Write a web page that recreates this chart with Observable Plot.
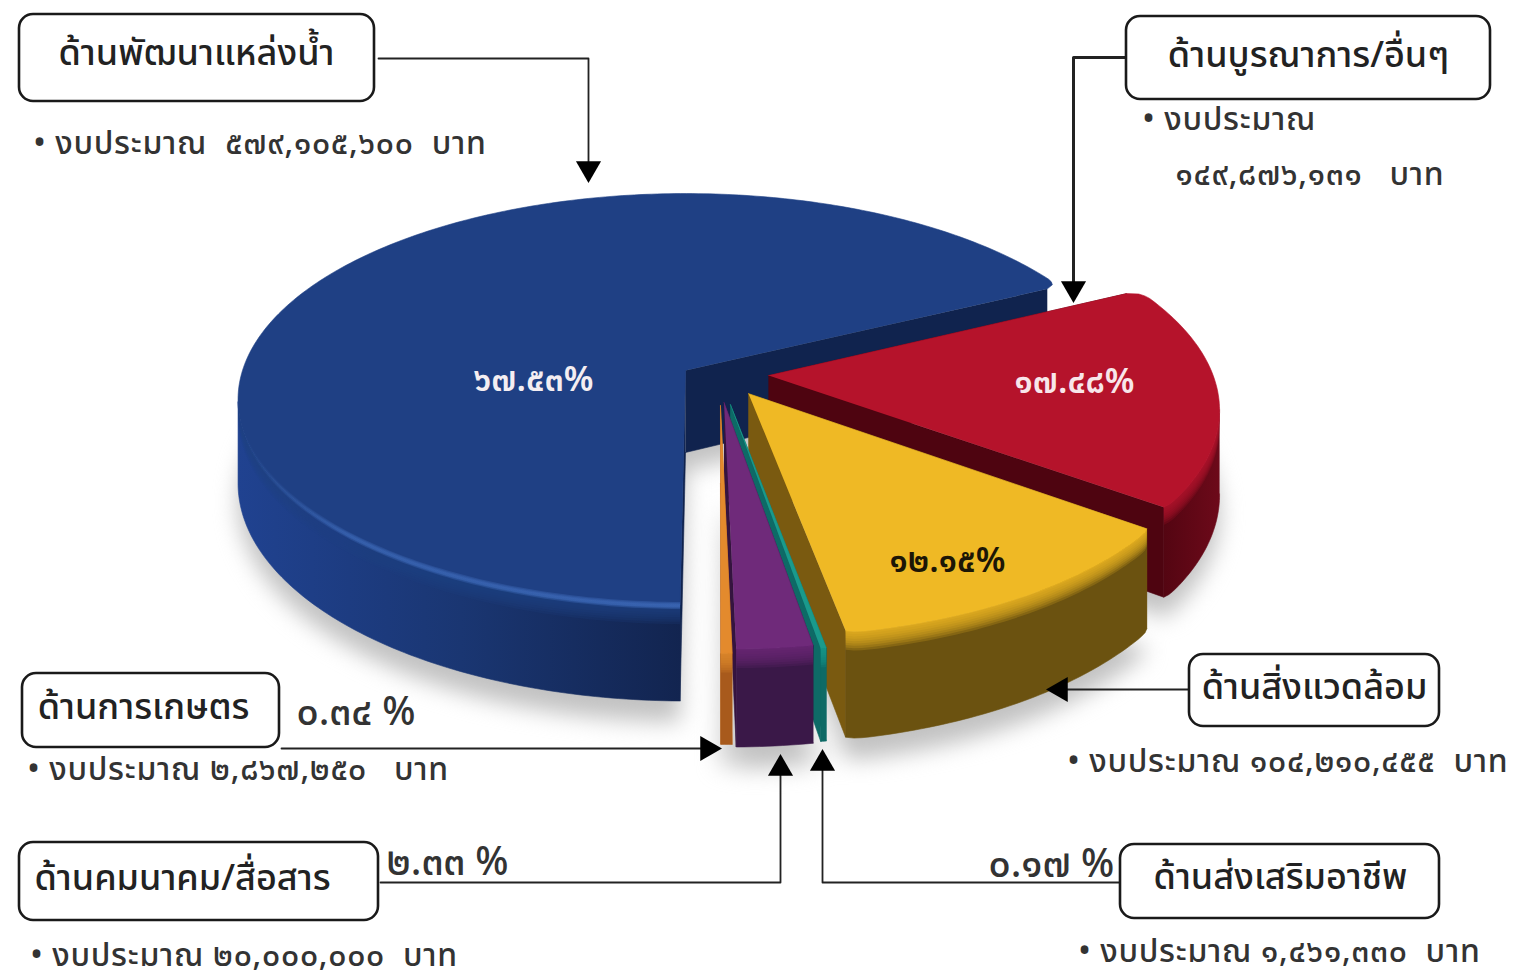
<!DOCTYPE html>
<html lang="th"><head><meta charset="utf-8">
<script src="https://cdn.jsdelivr.net/npm/d3@7"></script>
<script src="https://cdn.jsdelivr.net/npm/@observablehq/plot@0.6"></script>
<style>html,body{margin:0;padding:0;background:#fff}svg{display:block}</style>
</head><body><div id="chart"></div>
<script>
// ---- data ----
const sectors = ["ด้านพัฒนาแหล่งน้ำ","ด้านบูรณาการ/อื่นๆ","ด้านสิ่งแวดล้อม","ด้านส่งเสริมอาชีพ","ด้านคมนาคม/สื่อสาร","ด้านการเกษตร"];
const shares = [67.53,17.48,12.15,0.17,2.33,0.34];
const shareLabels = ["๖๗.๕๓%","๑๗.๔๘%","๑๒.๑๕%","๐.๑๗ %","๒.๓๓ %","๐.๓๔ %"];
const budgetLabels = ["• งบประมาณ  ๕๗๙,๑๐๕,๖๐๐  บาท","• งบประมาณ","๑๔๙,๘๗๖,๑๓๑   บาท","• งบประมาณ ๑๐๔,๒๑๐,๔๕๕  บาท","• งบประมาณ ๑,๔๖๑,๓๓๐  บาท","• งบประมาณ ๒๐,๐๐๐,๐๐๐  บาท","• งบประมาณ ๒,๘๖๗,๒๕๐   บาท"];
const topColors  = ["#1f4084","#b5132b","#efb925","#1a9a8c","#6f2a7a","#e38a2d"];
const wallFills  = ["url(#wallBlue)","url(#wallRed)","#6b5210","#0e6a66","#3a1848","#a85a1c"];
const innerColors= ["#10234e","#4e0410","#7a5a10","#0e6a66","#35143f","#c06a20"];
const shiftU = [0,0.187,0.14,0.099,0.085,0.077];
const shiftV = [0,0.025,0.113,0.165,0.155,0.17];
const depths = [82,82,90,78,82,76];
// how far each slice's outer corners are rounded off: [first corner, last corner]
const cornerCut = [[0,0.035],[0.035,0.005],[0.006,0.008],[0,0],[0,0],[0,0]];

// ---- projection of the tilted pie ----
const cx=685, cy=370, R=443, Rk=201.9, tilt=0.141;
const proj=(u,v,d=0)=>{const p=1/(1-v*tilt);return [cx+u*R*p, cy+v*Rk*p+d*p];};
const arcs=d3.pie().sort(null).startAngle(Math.PI+0.0105).endAngle(3*Math.PI+0.0105)(shares);
const polys=[], shadow=[]; let id=0;
const add=(arr,pts,color,op=1)=>{id++;pts.forEach(([x,y])=>arr.push({x,y,id,color,op,sop:op<1?0:1}));};
const bevel=[2,4,6,8,10,12,14,16];
arcs.forEach((a,i)=>{
  const du=shiftU[i], dv=shiftV[i], depth=depths[i];
  const span=a.endAngle-a.startAngle;
  const n=Math.max(3,Math.ceil(span/0.015));
  const angs=d3.range(n+1).map(k=>a.startAngle+span*k/n);
  const c=0.05;
  const round=b=>{
    const e0=b-a.startAngle,e1=a.endAngle-b;
    const e=Math.min(e0,e1), cut=e0<e1?cornerCut[i][0]:cornerCut[i][1];
    return e>=c?1:1-cut*(1-Math.sqrt(1-(1-e/c)**2));
  };
  const pt=(b,d=0)=>{const r=round(b);return proj(du+r*Math.sin(b),dv-r*Math.cos(b),d);};
  const ap=(d=0)=>proj(du,dv,d);
  add(shadow,[ap(depth+18),...angs.map(b=>pt(b,depth+18))],"#c2c2c2");
  // radial walls
  [a.startAngle,a.endAngle].forEach(b=>add(polys,[ap(0),pt(b,0),pt(b,depth),ap(depth)],innerColors[i]));
  // outer wall: only the longest stretch that faces the viewer (x falls as the bearing grows)
  const runs=[[]];
  angs.forEach((b,k)=>{
    const down=k===n?pt(angs[k-1])[0]>pt(b)[0]:pt(b)[0]>pt(angs[k+1])[0];
    if(down) runs[runs.length-1].push(b); else if(runs[runs.length-1].length) runs.push([]);
  });
  const fr=d3.greatest(runs,r=>r.length);
  const band=(s,d0,d1)=>[...s.map(b=>pt(b,d0)),...s.slice().reverse().map(b=>pt(b,d1))];
  add(polys,band(fr,0,depth),wallFills[i]);
  // soft bevel between the top face and the wall
  bevel.forEach(d=>add(polys,band(fr,0,d),topColors[i],0.2));
  // top face
  add(polys,[ap(0),...angs.map(b=>pt(b,0))],topColors[i]);
  // light rim along the front of the blue slice
  if(i===0){
    const front=angs.filter(b=>-Math.cos(b)>0.05);
    [[-3,3],[-2,2],[-1,1.5]].forEach(([d0,d1])=>add(polys,band(front,d0,d1),"url(#rimBlue)",0.4));
  }
});

// ---- annotation tables (built from the names above) ----
const boxes=[
 {name:sectors[0],x1:19,x2:374,y1:14,y2:101,tx:196,ty:53},
 {name:sectors[1],x1:1126,x2:1490,y1:16,y2:99,tx:1308,ty:55},
 {name:sectors[2],x1:1189,x2:1439,y1:654,y2:726,tx:1314,ty:687},
 {name:sectors[5],x1:22,x2:279,y1:673,y2:747,tx:143,ty:707},
 {name:sectors[4],x1:19,x2:378,y1:842,y2:920,tx:182,ty:878},
 {name:sectors[3],x1:1120,x2:1439,y1:844,y2:918,tx:1280,ty:877}
];
const links=[
 {k:0,w:1.8,p:[[378,58],[588,58],[588,165]]},
 {k:1,w:3,p:[[1126,57],[1073,57],[1073,285]]},
 {k:2,w:1.8,p:[[1189,689],[1060,689]]},
 {k:3,w:1.8,p:[[281,748],[705,748]]},
 {k:4,w:1.8,p:[[380,882],[780,882],[780,770]]},
 {k:5,w:1.8,p:[[1120,882],[822,882],[822,765]]}
].flatMap(l=>l.p.map(([x,y])=>({x,y,k:l.k,w:l.w})));
const heads=[{x:588,y:168,r:180},{x:1073,y:288,r:180},{x:1060,y:689,r:270},{x:707,y:748,r:90},{x:780,y:768,r:0},{x:822,y:763,r:0}];
const notes=[
 {t:budgetLabels[0],x:33,y:143},{t:budgetLabels[1],x:1142,y:119},{t:budgetLabels[2],x:1175,y:174},
 {t:budgetLabels[3],x:1067,y:761},{t:budgetLabels[4],x:1078,y:951},{t:budgetLabels[5],x:30,y:955},{t:budgetLabels[6],x:27,y:769}
];
const pctIn=[{t:shareLabels[0],x:533,y:380,c:"#f4eef2"},{t:shareLabels[1],x:1074,y:382,c:"#f8e6ea"},{t:shareLabels[2],x:947,y:561,c:"#1c1606"}];
const pctOut=[{t:shareLabels[5],x:296,y:712},{t:shareLabels[4],x:386,y:862},{t:shareLabels[3],x:988,y:864}];
const font='"Noto Sans Thai","Noto Sans","DejaVu Sans",sans-serif';

// gradients used by the walls
const gradient=(id,x1,x2,stops)=>`<linearGradient id="${id}" gradientUnits="userSpaceOnUse" x1="${x1}" y1="0" x2="${x2}" y2="0">`+stops.map(([o,c,a=1])=>`<stop offset="${o}" stop-color="${c}" stop-opacity="${a}"/>`).join("")+`</linearGradient>`;
const defs=()=>{
  const g=document.createElementNS("http://www.w3.org/2000/svg","defs");
  g.innerHTML=gradient("wallBlue",237,685,[[0,"#204290"],[0.5,"#1a3672"],[1,"#12244f"]])
    +gradient("wallRed",1150,1222,[[0,"#4e0410"],[1,"#6e0a1a"]])
    +gradient("rimBlue",240,685,[[0,"#3f6cbc",0],[0.25,"#3f6cbc",0.8],[1,"#3f6cbc",1]]);
  return g;
};

const chart=Plot.plot({
  width:1518,height:980,margin:0,
  x:{domain:[0,1518],range:[0,1518],axis:null},
  y:{domain:[0,980],range:[0,980],axis:null},
  color:{type:"identity"},
  marks:[
    defs,
    Plot.line(shadow,{x:"x",y:"y",z:"id",fill:"color",stroke:null,imageFilter:"blur(11px)"}),
    Plot.line(polys,{x:"x",y:"y",z:"id",fill:"color",fillOpacity:"op",stroke:"color",strokeOpacity:"sop",strokeWidth:0.6}),
    Plot.line(links,{x:"x",y:"y",z:"k",stroke:"#222",strokeWidth:"w"}),
    Plot.dot(heads,{x:"x",y:"y",rotate:"r",symbol:"triangle2",r:12,fill:"#000",stroke:null}),
    Plot.rect(boxes,{x1:"x1",x2:"x2",y1:"y1",y2:"y2",rx:14,fill:"#fff",stroke:"#1a1a1a",strokeWidth:2.6}),
    Plot.text(boxes,{x:"tx",y:"ty",text:"name",fontSize:36,fontWeight:500,fill:"#222",fontFamily:font}),
    Plot.text(notes,{x:"x",y:"y",text:"t",textAnchor:"start",fontSize:32,fontWeight:500,fill:"#333",fontFamily:font}),
    Plot.text(pctIn,{x:"x",y:"y",text:"t",fontSize:34,fontWeight:600,fill:"c",fontFamily:font}),
    Plot.text(pctOut,{x:"x",y:"y",text:"t",textAnchor:"start",fontSize:39,fontWeight:500,fill:"#333",fontFamily:font})
  ]
});
// the budget lines are set a little wider than the font's natural spacing
d3.select(chart).selectAll("text").filter(function(){return budgetLabels.includes(this.textContent);}).style("letter-spacing","0.7px");
document.getElementById("chart").append(chart);
</script></body></html>
